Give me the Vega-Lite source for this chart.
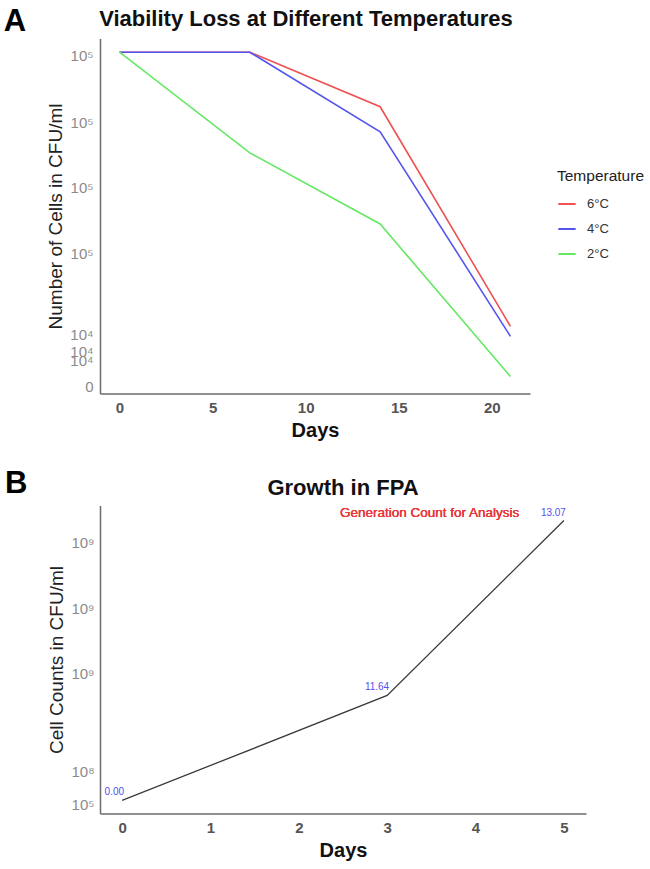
{
  "$schema": "https://vega.github.io/schema/vega-lite/v6.json",
  "background": "white",
  "padding": {"left": 3, "top": 5.5, "right": 5, "bottom": 5},
  "spacing": 27,
  "config": {
    "font": "Liberation Sans",
    "view": {"stroke": null},
    "axis": {"grid": false, "ticks": false, "domainColor": "#6b6b6b", "domainWidth": 1.5, "labelFont": "Liberation Sans", "titleFont": "Liberation Sans"},
    "axisX": {"labelFontSize": 15, "labelFontWeight": "bold", "labelColor": "#555555", "titleFontSize": 20, "titleFontWeight": "bold", "titleColor": "#111111", "labelPadding": 7, "titlePadding": 5},
    "axisY": {"labelFontSize": 15, "labelColor": "#8a8a8a", "titleFontSize": 19, "titleFontWeight": "normal", "titleColor": "#222222", "labelPadding": 7, "titlePadding": 4, "labelOverlap": false},
    "title": {"font": "Liberation Sans", "fontSize": 22, "fontWeight": "bold", "color": "#111111"}
  },
  "vconcat": [
    {
      "title": {"text": "A", "anchor": "start", "frame": "bounds", "fontSize": 31, "fontWeight": "bold", "color": "#000000", "dy": 34.5, "dx": -43},
      "vconcat": [
        {
          "width": 430,
          "height": 355,
          "title": {"text": "Viability Loss at Different Temperatures", "anchor": "middle", "offset": 8, "dx": -9},
          "data": {"values": [
            {"day": 0, "cfu": 1000000, "temperature": "6°C"},
            {"day": 7, "cfu": 1000000, "temperature": "6°C"},
            {"day": 14, "cfu": 565000, "temperature": "6°C"},
            {"day": 21, "cfu": 30400, "temperature": "6°C"},
            {"day": 0, "cfu": 1000000, "temperature": "4°C"},
            {"day": 7, "cfu": 1000000, "temperature": "4°C"},
            {"day": 14, "cfu": 432000, "temperature": "4°C"},
            {"day": 21, "cfu": 24000, "temperature": "4°C"},
            {"day": 0, "cfu": 1000000, "temperature": "2°C"},
            {"day": 7, "cfu": 343000, "temperature": "2°C"},
            {"day": 14, "cfu": 150000, "temperature": "2°C"},
            {"day": 21, "cfu": 3900, "temperature": "2°C"}
          ]},
          "mark": {"type": "line", "strokeWidth": 1.6},
          "encoding": {
            "x": {"field": "day", "type": "quantitative", "scale": {"domain": [-1.05, 22.05], "nice": false, "zero": false}, "axis": {"values": [0, 5, 10, 15, 20], "title": "Days", "format": "d"}},
            "y": {"field": "cfu", "type": "quantitative", "scale": {"type": "symlog", "constant": 37000, "domain": [-2683, 1152000], "nice": false, "zero": false},
                  "axis": {"values": [0, 11000, 15500, 25000, 103000, 231000, 476000, 966000], "title": "Number of Cells in CFU/ml",
                           "labelExpr": "datum.value == 0 ? '0' : '10' + substring('⁰¹²³⁴⁵⁶⁷⁸⁹', floor(log(datum.value)/LN10 + 1e-9), floor(log(datum.value)/LN10 + 1e-9) + 1)"}},
            "color": {"field": "temperature", "type": "nominal", "sort": ["6°C", "4°C", "2°C"],
                      "scale": {"domain": ["6°C", "4°C", "2°C"], "range": ["#ee5252", "#5555ee", "#66e866"]},
                      "legend": {"orient": "none", "legendX": 457, "legendY": 130, "title": "Temperature", "titleFontSize": 15.5, "titleFontWeight": "normal", "titleColor": "#222222", "labelFontSize": 13, "labelColor": "#333333", "symbolType": "stroke", "symbolStrokeWidth": 2, "symbolSize": 300, "rowPadding": 8, "titlePadding": 10, "labelOffset": 10}}
          }
        }
      ]
    },
    {
      "title": {"text": "B", "anchor": "start", "frame": "bounds", "fontSize": 31, "fontWeight": "bold", "color": "#000000", "dy": 27, "dx": -43},
      "vconcat": [
        {
          "width": 486,
          "height": 308,
          "title": {"text": "Growth in FPA", "anchor": "middle", "offset": 5.5},
          "data": {"values": [
            {"day": 0, "cells": 29000000, "generations": "0.00"},
            {"day": 3, "cells": 832000000, "generations": "11.64"},
            {"day": 5, "cells": 2170000000, "generations": "13.07"}
          ]},
          "layer": [
            {
              "mark": {"type": "line", "color": "#3a3a3a", "strokeWidth": 1.3},
              "encoding": {
                "x": {"field": "day", "type": "quantitative", "scale": {"domain": [-0.25, 5.25], "nice": false, "zero": false}, "axis": {"values": [0, 1, 2, 3, 4, 5], "title": "Days", "format": "d"}},
                "y": {"field": "cells", "type": "quantitative", "scale": {"domain": [-70700000, 2285000000], "nice": false, "zero": false},
                      "axis": {"values": [100000, 250000000, 1000000000, 1500000000, 2000000000], "title": "Cell Counts in CFU/ml", "labelPadding": 6,
                               "labelExpr": "datum.value == 0 ? '0' : '10' + substring('⁰¹²³⁴⁵⁶⁷⁸⁹', floor(log(datum.value)/LN10 + 1e-9), floor(log(datum.value)/LN10 + 1e-9) + 1)"}}
              }
            },
            {
              "mark": {"type": "text", "align": "right", "baseline": "middle", "dx": 2, "dy": -8, "fontSize": 10, "color": "#5050f0"},
              "encoding": {
                "x": {"field": "day", "type": "quantitative"},
                "y": {"field": "cells", "type": "quantitative"},
                "text": {"field": "generations"}
              }
            },
            {
              "mark": {"type": "text", "align": "center", "baseline": "middle", "fontSize": 13.5, "color": "#e83a3a"},
              "encoding": {
                "x": {"datum": 3.48},
                "y": {"datum": 2224000000},
                "text": {"value": "Generation Count for Analysis"}
              }
            }
          ]
        }
      ]
    }
  ]
}
